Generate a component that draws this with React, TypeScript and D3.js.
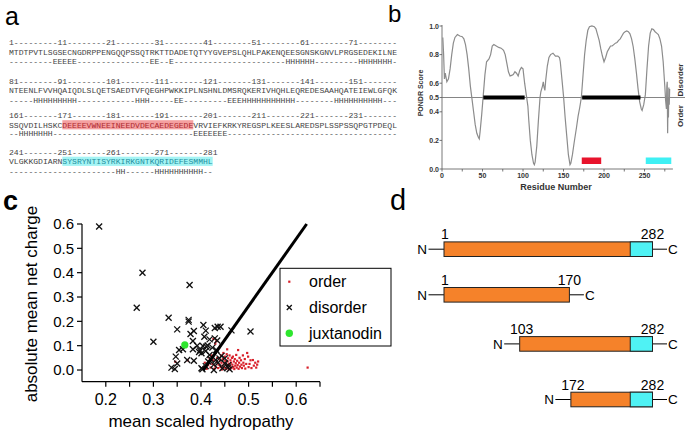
import React from 'react';
import * as d3 from 'd3';

const SANS = "'Liberation Sans', Arial, Helvetica, sans-serif";
const MONO = "'Liberation Mono', 'Courier New', monospace";

// ---------- Panel a: sequence ----------
const d = (n: number) => '-'.repeat(n);
const seqNumbers = [
  '1---------11--------21--------31--------41--------51--------61--------71--------',
  '81--------91--------101-------111-------121-------131-------141-------151-------',
  '161-------171-------181-------191-------201-------211-------221-------231-------',
  '241-------251-------261-------271-------281',
];
const seqResidues = [
  'MTDTPVTLSGSECNGDRPPENGQQPSSQTRKTTDADETQTYYGVEPSLQHLPAKENQEESGNSKGNVLPRGSEDEKILNE',
  'NTEENLFVVHQAIQDLSLQETSAEDTVFQEGHPWKKIPLNSHNLDMSRQKERIVHQHLEQREDESAAHQATEIEWLGFQK',
  'SSQVDILHSKCDEEEEVWNEEINEEDVDECAEDEGEDEVRVIEFKRKYREGSPLKEESLAREDSPLSSPSSQPGTPDEQL',
  'VLGKKGDIARNSYSRYNTISYRKIRKGNTKQRIDEFESMMHL',
];
const seqStructure = [
  d(9) + 'EEEEE' + d(15) + 'EE' + d(2) + 'E' + d(23) + 'HHHHHH' + d(9) + 'HHHHHHH' + d(1),
  d(5) + 'HHHHHHHHH' + d(12) + 'HHH' + d(5) + 'EE' + d(9) + 'EEE' + 'HHHHHHHHHHH' + d(8) + 'HHHHHHHHHH' + d(3),
  d(2) + 'HHHHHHH' + d(29) + 'EEEEEEE' + d(35),
  d(22) + 'HH' + d(6) + 'HHHHHHHHHH' + d(2),
];
// highlighted stretches: [block, firstChar(1-based), lastChar]
const acidicHighlight = [2, 12, 38];
const basicHighlight = [3, 12, 42];

// ---------- Panel b: PONDR ----------
const pondr: [number, number][] = [
  [1,0.92],[2,0.80],[3,0.63],[4,0.67],[5,0.64],[6,0.61],[8,0.63],[10,0.70],[12,0.80],[14,0.88],[16,0.92],
  [19,0.94],[22,0.93],[25,0.925],[27,0.91],[29,0.87],[31,0.80],[33,0.70],[35,0.58],[37,0.49],[39,0.40],
  [41,0.31],[43,0.25],[45,0.22],[46,0.21],[47,0.26],[49,0.38],[51,0.52],[53,0.66],[55,0.75],[58,0.77],
  [60,0.80],[62,0.86],[64,0.87],[67,0.86],[70,0.85],[73,0.845],[76,0.83],[78,0.80],[80,0.74],[82,0.68],
  [84,0.65],[86,0.655],[88,0.66],[90,0.68],[92,0.67],[94,0.65],[96,0.69],[98,0.71],[100,0.70],[102,0.60],
  [104,0.52],[106,0.44],[107,0.35],[109,0.20],[111,0.10],[113,0.04],[114,0.03],[115,0.05],[117,0.16],
  [119,0.34],[121,0.50],[122,0.54],[124,0.58],[125,0.61],[126,0.57],[127,0.55],[128,0.62],[130,0.72],
  [132,0.78],[134,0.80],[137,0.81],[140,0.79],[143,0.79],[145,0.78],[146,0.75],[148,0.63],[150,0.51],
  [152,0.36],[154,0.23],[156,0.10],[158,0.03],[159,0.04],[161,0.10],[163,0.18],[166,0.29],[168,0.37],
  [170,0.43],[172,0.50],[174,0.65],[176,0.80],[178,0.90],[180,0.97],[182,0.995],[185,1.0],[188,0.995],
  [190,0.98],[192,0.94],[194,0.90],[196,0.84],[198,0.79],[200,0.75],[202,0.78],[204,0.82],[206,0.84],
  [208,0.86],[210,0.86],[212,0.87],[214,0.88],[216,0.885],[218,0.90],[220,0.91],[222,0.93],[224,0.95],
  [226,0.96],[228,0.965],[230,0.96],[232,0.945],[234,0.91],[236,0.855],[238,0.77],[240,0.67],[242,0.56],
  [244,0.47],[246,0.42],[247,0.41],[249,0.45],[251,0.52],[253,0.70],[255,0.86],[257,0.95],[259,0.98],
  [261,0.975],[263,0.96],[265,0.95],[267,0.94],[269,0.91],[271,0.86],[273,0.75],[275,0.58],[276,0.48],
  [277,0.42],[277.5,0.58],[278,0.61],[278.5,0.25],[279,0.50],[279.5,0.36],[280,0.57],[280.5,0.45],[281,0.56],
];
const disorderRegions: [number, number][] = [[51, 102], [173, 245]];
const acidicRegion: [number, number] = [172.5, 196.5];
const basicRegion: [number, number] = [251.5, 283];
const pondrYTicks = [0, 0.2, 0.4, 0.5, 0.6, 0.8, 1.0];
const pondrXLabels = [0, 50, 100, 150, 200, 250];
const pondrXTicks = [0, 25, 50, 75, 100, 125, 150, 175, 200, 225, 250, 275];

// ---------- Panel c: charge–hydropathy ----------
const disorderPts: [number, number][] = [
  [0.186,0.59],[0.277,0.40],[0.376,0.349],[0.265,0.256],[0.332,0.215],[0.374,0.206],[0.374,0.199],
  [0.350,0.167],[0.300,0.116],[0.385,0.160],[0.378,0.148],[0.405,0.185],[0.410,0.162],[0.429,0.173],
  [0.435,0.178],[0.441,0.178],[0.383,0.119],[0.407,0.137],[0.418,0.126],[0.429,0.130],[0.434,0.121],
  [0.404,0.099],[0.414,0.101],[0.424,0.092],[0.362,0.085],[0.354,0.082],[0.383,0.085],[0.396,0.074],
  [0.401,0.069],[0.410,0.078],[0.347,0.055],[0.418,0.062],[0.371,0.041],[0.385,0.038],[0.350,0.027],
  [0.338,0.010],[0.345,0.004],[0.401,0.007],[0.410,0.016],[0.443,0.058],[0.450,0.048],[0.457,0.020],
  [0.464,0.163],[0.504,0.158],[0.427,0.000],[0.431,0.041],[0.411,0.096],[0.432,0.082],[0.439,0.048],
  [0.450,0.027],[0.460,0.003],[0.457,0.011],[0.427,0.022],[0.403,0.003],[0.445,0.007],[0.398,0.080],
  [0.420,0.045],[0.436,0.030],[0.415,0.035],[0.392,0.100],
];
const orderPts: [number, number][] = [
  [0.346,0.034],[0.372,0.040],[0.405,0.012],[0.408,0.030],[0.412,0.005],[0.415,0.020],[0.418,0.048],
  [0.420,0.010],[0.422,0.060],[0.424,0.025],[0.426,0.040],[0.428,0.005],[0.430,0.015],[0.431,0.070],
  [0.433,0.032],[0.434,0.050],[0.436,0.008],[0.437,0.022],[0.438,0.090],[0.440,0.040],[0.441,0.012],
  [0.442,0.060],[0.443,0.030],[0.444,0.002],[0.445,0.018],[0.446,0.045],[0.447,0.070],[0.448,0.010],
  [0.449,0.028],[0.450,0.055],[0.451,0.038],[0.452,0.005],[0.453,0.020],[0.454,0.065],[0.455,0.012],
  [0.456,0.035],[0.457,0.048],[0.458,0.003],[0.459,0.025],[0.460,0.060],[0.461,0.015],[0.462,0.040],
  [0.463,0.030],[0.464,0.008],[0.465,0.050],[0.466,0.022],[0.467,0.055],[0.468,0.012],[0.469,0.035],
  [0.470,0.004],[0.471,0.045],[0.472,0.018],[0.473,0.028],[0.474,0.062],[0.475,0.010],[0.476,0.038],
  [0.477,0.020],[0.478,0.082],[0.479,0.005],[0.480,0.030],[0.481,0.050],[0.482,0.014],[0.484,0.040],
  [0.485,0.022],[0.486,0.008],[0.488,0.060],[0.489,0.030],[0.490,0.018],[0.492,0.045],[0.493,0.006],
  [0.495,0.025],[0.497,0.070],[0.499,0.055],[0.500,0.012],[0.502,0.025],[0.504,0.040],[0.506,0.008],
  [0.509,0.041],[0.511,0.018],[0.514,0.030],[0.516,0.010],[0.518,0.022],[0.520,0.035],[0.624,0.010],
  [0.455,0.085],[0.440,0.100],[0.430,0.108],[0.426,0.128],[0.432,0.118],
];
const juxtanodin: [number, number] = [0.366, 0.103];
const boundary: [number, number][] = [[0.405, 0.0], [0.622, 0.6]];
const chargeTicks = [0, 0.1, 0.2, 0.3, 0.4, 0.5, 0.6];
const hydroLabels = [0.2, 0.3, 0.4, 0.5, 0.6];
const hydroTicks = [0.2, 0.25, 0.3, 0.35, 0.4, 0.45, 0.5, 0.55, 0.6, 0.65];
const legendItems = ['order', 'disorder', 'juxtanodin'];

// ---------- Panel d: constructs ----------
const constructs = [
  { start: 1, end: 282 },
  { start: 1, end: 170 },
  { start: 103, end: 282 },
  { start: 172, end: 282 },
];
const basicStart = 252;

const ORANGE = '#f5822a';
const CYAN = '#4ff2f4';

function Cross({ x, y, s = 3 }: { x: number; y: number; s?: number }) {
  return (
    <g stroke="#111" strokeWidth={1.3}>
      <line x1={x - s} y1={y - s} x2={x + s} y2={y + s} />
      <line x1={x - s} y1={y + s} x2={x + s} y2={y - s} />
    </g>
  );
}

export default function App() {
  // panel a layout
  const ax0 = 9, charW = 4.85;
  const blockBase = [[45, 54.5, 64], [84, 93, 102.5], [118.3, 127.5, 136.3], [155, 164, 173.5]];

  // panel b scales
  const xB = d3.scaleLinear().domain([0, 285]).range([442, 672.9]);
  const yB = d3.scaleLinear().domain([0, 1]).range([169, 26]);
  const pondrLine = d3.line<[number, number]>().x(p => xB(p[0])).y(p => yB(p[1]));

  // panel c scales
  const xC = d3.scaleLinear().domain([0.15, 0.65]).range([82, 320]);
  const yC = d3.scaleLinear().domain([-0.048, 0.6]).range([381.7, 224]);
  const bLine = d3.line<[number, number]>().x(p => xC(p[0])).y(p => yC(p[1]));

  // panel d scale
  const xD = d3.scaleLinear().domain([1, 282]).range([444, 652.5]);
  const rowCenters = [249.2, 294.8, 343.9, 399.5];
  const boxH = 14.6;

  const renderSeqLine = (block: number, str: string, y: number, colored: boolean) => {
    const hl = colored ? (block === acidicHighlight[0] ? acidicHighlight : block === basicHighlight[0] ? basicHighlight : null) : null;
    const len = str.length;
    if (!hl) {
      return (
        <text x={ax0} y={y} fontFamily={MONO} fontSize={8.08} fill="#444" textLength={len * charW} lengthAdjust="spacingAndGlyphs">{str}</text>
      );
    }
    const [, a, b] = hl;
    const color = block === acidicHighlight[0] ? '#b02a30' : '#1f8fa0';
    return (
      <text x={ax0} y={y} fontFamily={MONO} fontSize={8.08} fill="#444" textLength={len * charW} lengthAdjust="spacingAndGlyphs">
        <tspan>{str.slice(0, a - 1)}</tspan>
        <tspan fill={color}>{str.slice(a - 1, b)}</tspan>
        <tspan>{str.slice(b)}</tspan>
      </text>
    );
  };

  return (
    <svg width={685} height={434} style={{ position: 'absolute', left: 0, top: 0, background: '#fff' }}>
      <rect width={685} height={434} fill="#fff" />

      {/* ================= Panel a ================= */}
      <text x={5} y={25} fontFamily={SANS} fontSize={25} fill="#000">a</text>
      {[acidicHighlight, basicHighlight].map((h, i) => (
        <rect key={'hl' + i} x={ax0 + (h[1] - 1) * charW} y={blockBase[h[0]][1] - 7.3}
          width={(h[2] - h[1] + 1) * charW} height={9.2} fill={i === 0 ? '#f4a0a0' : '#a4f4f4'} />
      ))}
      {seqNumbers.map((s, i) => (
        <g key={'blk' + i}>
          {renderSeqLine(i, s, blockBase[i][0], false)}
          {renderSeqLine(i, seqResidues[i], blockBase[i][1], true)}
          {renderSeqLine(i, seqStructure[i], blockBase[i][2], false)}
        </g>
      ))}

      {/* ================= Panel b ================= */}
      <text x={388} y={22} fontFamily={SANS} fontSize={24} fill="#000">b</text>
      <line x1={xB(0)} x2={xB(0)} y1={yB(1) - 1} y2={yB(0)} stroke="#555" strokeWidth={0.8} />
      <line x1={xB(0)} x2={xB(285)} y1={yB(0)} y2={yB(0)} stroke="#555" strokeWidth={0.8} />
      {pondrYTicks.map(t => (
        <g key={'by' + t}>
          <line x1={xB(0) - 2.5} x2={xB(0)} y1={yB(t)} y2={yB(t)} stroke="#555" strokeWidth={0.8} />
          <text x={xB(0) - 3} y={yB(t) + 2.5} textAnchor="end" fontFamily={SANS} fontSize={7} fontWeight="bold" fill="#333">{t.toFixed(1)}</text>
        </g>
      ))}
      {pondrXTicks.map(t => (
        <line key={'bxt' + t} x1={xB(t)} x2={xB(t)} y1={yB(0)} y2={yB(0) + 2.5} stroke="#555" strokeWidth={0.8} />
      ))}
      {pondrXLabels.map(t => (
        <text key={'bxl' + t} x={xB(t)} y={178} textAnchor="middle" fontFamily={SANS} fontSize={7} fontWeight="bold" fill="#333">{t}</text>
      ))}
      <text x={556} y={190} textAnchor="middle" fontFamily={SANS} fontSize={9} fontWeight="bold" fill="#333">Residue Number</text>
      <text transform={`translate(423,93) rotate(-90)`} textAnchor="middle" fontFamily={SANS} fontSize={7} fontWeight="bold" fill="#333">PONDR Score</text>
      <text transform={`translate(683,80) rotate(-90)`} textAnchor="middle" fontFamily={SANS} fontSize={8} fontWeight="bold" fill="#333">Disorder</text>
      <text transform={`translate(683,116) rotate(-90)`} textAnchor="middle" fontFamily={SANS} fontSize={8} fontWeight="bold" fill="#333">Order</text>
      <line x1={xB(0)} x2={685} y1={yB(0.5)} y2={yB(0.5)} stroke="#666" strokeWidth={0.8} />
      <path d={pondrLine(pondr) || ''} fill="none" stroke="#8c8c8c" strokeWidth={1.2} />
      {disorderRegions.map((r, i) => (
        <line key={'dr' + i} x1={xB(r[0])} x2={xB(r[1])} y1={yB(0.5)} y2={yB(0.5)} stroke="#000" strokeWidth={4} />
      ))}
      <rect x={xB(acidicRegion[0])} y={157.5} width={xB(acidicRegion[1]) - xB(acidicRegion[0])} height={6.5} fill="#e8132c" />
      <rect x={xB(basicRegion[0])} y={157.5} width={xB(basicRegion[1]) - xB(basicRegion[0])} height={6.5} fill="#3ff0f4" />

      {/* ================= Panel c ================= */}
      <text x={3} y={210} fontFamily={SANS} fontSize={27} fontWeight="bold" fill="#000">c</text>
      <line x1={xC(0.15)} x2={xC(0.15)} y1={yC(0.6)} y2={yC(-0.048)} stroke="#000" strokeWidth={1.2} />
      <line x1={xC(0.15)} x2={xC(0.65)} y1={yC(-0.048)} y2={yC(-0.048)} stroke="#000" strokeWidth={1.2} />
      {chargeTicks.map(t => (
        <g key={'cy' + t}>
          <line x1={xC(0.15) - 5} x2={xC(0.15)} y1={yC(t)} y2={yC(t)} stroke="#000" strokeWidth={1.2} />
          <text x={xC(0.15) - 8} y={yC(t) + 5.3} textAnchor="end" fontFamily={SANS} fontSize={15} fill="#000">{t.toFixed(1)}</text>
        </g>
      ))}
      {hydroTicks.map(t => (
        <line key={'cxt' + t} x1={xC(t)} x2={xC(t)} y1={yC(-0.048)} y2={yC(-0.048) + 5} stroke="#000" strokeWidth={1.2} />
      ))}
      {hydroLabels.map(t => (
        <text key={'cxl' + t} x={xC(t)} y={405} textAnchor="middle" fontFamily={SANS} fontSize={16} fill="#000">{t.toFixed(1)}</text>
      ))}
      <text x={201} y={426.5} textAnchor="middle" fontFamily={SANS} fontSize={17} fill="#000">mean scaled hydropathy</text>
      <text transform={`translate(37,304) rotate(-90)`} textAnchor="middle" fontFamily={SANS} fontSize={17} fill="#000">absolute mean net charge</text>
      {orderPts.map((p, i) => (
        <rect key={'o' + i} x={xC(p[0]) - 1.1} y={yC(p[1]) - 1.1} width={2.2} height={2.2} fill="#d8202a" />
      ))}
      {disorderPts.map((p, i) => (
        <Cross key={'x' + i} x={xC(p[0])} y={yC(p[1])} />
      ))}
      <circle cx={xC(juxtanodin[0])} cy={yC(juxtanodin[1])} r={3.6} fill="#2ee62e" />
      <path d={bLine(boundary) || ''} fill="none" stroke="#000" strokeWidth={3} />
      <rect x={280} y={268.3} width={111} height={77.7} fill="#fff" stroke="#000" strokeWidth={1} />
      {legendItems.map((name, i) => {
        const cy = 281.7 + i * 25.8;
        return (
          <g key={'lg' + i}>
            {i === 0 && <rect x={288.2} y={cy - 1.1} width={2.2} height={2.2} fill="#d8202a" />}
            {i === 1 && <Cross x={289.3} y={cy} s={2.5} />}
            {i === 2 && <circle cx={289.3} cy={cy} r={3.7} fill="#2ee62e" />}
            <text x={309} y={cy + 5.5} fontFamily={SANS} fontSize={16} fill="#000">{name}</text>
          </g>
        );
      })}

      {/* ================= Panel d ================= */}
      <text x={390} y={210} fontFamily={SANS} fontSize={29} fill="#000">d</text>
      {constructs.map((c, i) => {
        const cy = rowCenters[i];
        const x0 = xD(c.start), x1 = xD(c.end);
        const top = cy - boxH / 2;
        const hasBasic = c.end >= basicStart;
        return (
          <g key={'con' + i}>
            <line x1={x0 - 15.5} x2={x0} y1={cy} y2={cy} stroke="#000" strokeWidth={1} />
            <text x={x0 - 17} y={cy + 4.7} textAnchor="end" fontFamily={SANS} fontSize={13.5} fill="#000">N</text>
            <line x1={x1} x2={x1 + 14.5} y1={cy} y2={cy} stroke="#000" strokeWidth={1} />
            <text x={x1 + 15.5} y={cy + 4.7} fontFamily={SANS} fontSize={13.5} fill="#000">C</text>
            <rect x={x0} y={top} width={x1 - x0} height={boxH} fill={ORANGE} stroke="#222" strokeWidth={1} />
            {hasBasic && (
              <rect x={xD(basicStart)} y={top} width={x1 - xD(basicStart)} height={boxH} fill={CYAN} stroke="#222" strokeWidth={1} />
            )}
            <text x={x0 + (c.start === 1 ? 1 : 2)} y={top - 2.7} textAnchor="middle" fontFamily={SANS} fontSize={14} fill="#000">{c.start}</text>
            <text x={x1} y={top - 2.7} textAnchor="middle" fontFamily={SANS} fontSize={14} fill="#000">{c.end}</text>
          </g>
        );
      })}
    </svg>
  );
}
